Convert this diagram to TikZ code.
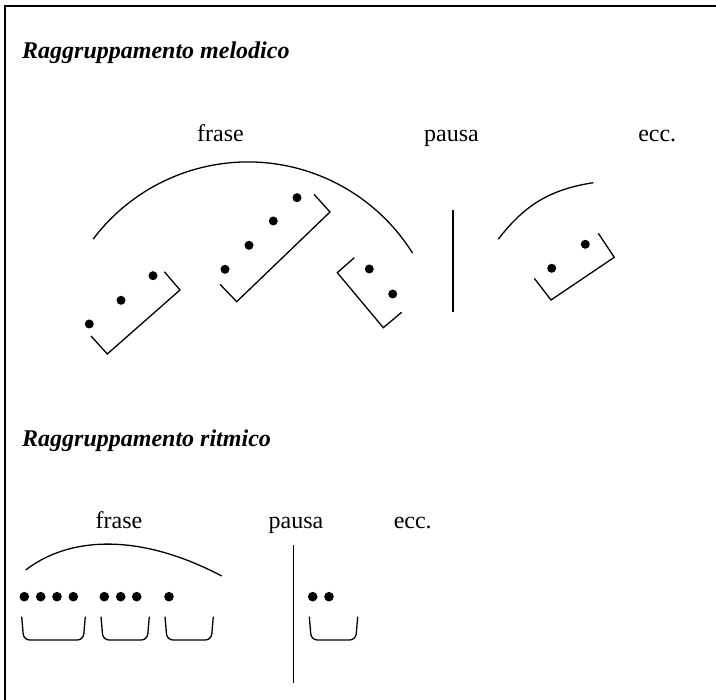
\documentclass[tikz,border=0pt]{standalone}
\usepackage{fontspec}
\setmainfont{Liberation Serif}
\usepackage{tikz}
\usetikzlibrary{positioning}

\tikzset{
  lbl/.style={inner sep=0pt, font=\fontsize{24}{28}\selectfont, text height=17pt, text depth=5pt},
  ttl/.style={lbl, font=\fontsize{24}{28}\selectfont\bfseries\itshape, anchor=base west},
  ln/.style={line width=1.3pt},
  dt/.style={fill=black}
}

\begin{document}
\begin{tikzpicture}[x=1pt,y=1pt]
    \useasboundingbox (0,0) rectangle (716,700);
    \draw[line width=1.5pt] (5,0) -- (5,694) -- (716,694);

    \node(t1) [ttl] at (22,641) {Raggruppamento melodico};
    \node(f1) [lbl,anchor=base] at (220.5,558) {frase};
    \node(p1) [lbl,right=180pt of f1] {pausa};
    \node(e1) [lbl,right=159pt of p1] {ecc.};

    \draw[ln] (93.1,460.8) arc[start angle=143, end angle=32, radius=194];
    \foreach \p in {(89.3,376),(121,399.7),(153,424.3)} \fill[dt] \p circle (4.5);
    \draw[ln] (91,364) -- (107.3,346) -- (180,410) -- (164.3,428.3);
    \foreach \p in {(225,430.7),(249,454.7),(273.3,479),(297,502.3)} \fill[dt] \p circle (4.5);
    \draw[ln] (220,415.7) -- (236.7,398.3) -- (330,488) -- (314,505.7);
    \foreach \p in {(369.3,431),(392.7,406)} \fill[dt] \p circle (4.5);
    \draw[ln] (354.3,442.3) -- (337.3,427.3) -- (383.3,372.3) -- (401.7,387.7);
    \draw[ln] (453,490) -- (453,388);
    \draw[ln] (498.3,460.7) to[bend left=22] (593.3,517.3);
    \foreach \p in {(551.7,431.7),(585.3,455.7)} \fill[dt] \p circle (4.5);
    \draw[ln] (534.3,421.7) -- (551,400) -- (614.3,442.7) -- (598.3,466.7);

    \node(t2) [ttl] at (22,253) {Raggruppamento ritmico};
    \node(f2) [lbl,anchor=base] at (119,171) {frase};
    \node(p2) [lbl,right=126pt of f2] {pausa};
    \node(e2) [lbl,right=70pt of p2] {ecc.};

    \draw[ln] (25.7,130) .. controls (70,164) and (140,167) .. (221.7,124);
    \foreach \x in {24.3,40.7,57,73.3,104.3,120.7,136.7,169,312.7,329} \fill[dt] (\x,103.3) circle (4.8);
    \foreach \a/\b in {21.7/85.3,101/149.3,165/213.3,309.3/357.7}
      \draw[ln,rounded corners=6pt] (\a,83.3) -- (\a+2,60) -- (\b-2,60) -- (\b,83.3);
    \draw[ln] (293.3,155) -- (293.3,17.3);
  \end{tikzpicture}
\end{document}
